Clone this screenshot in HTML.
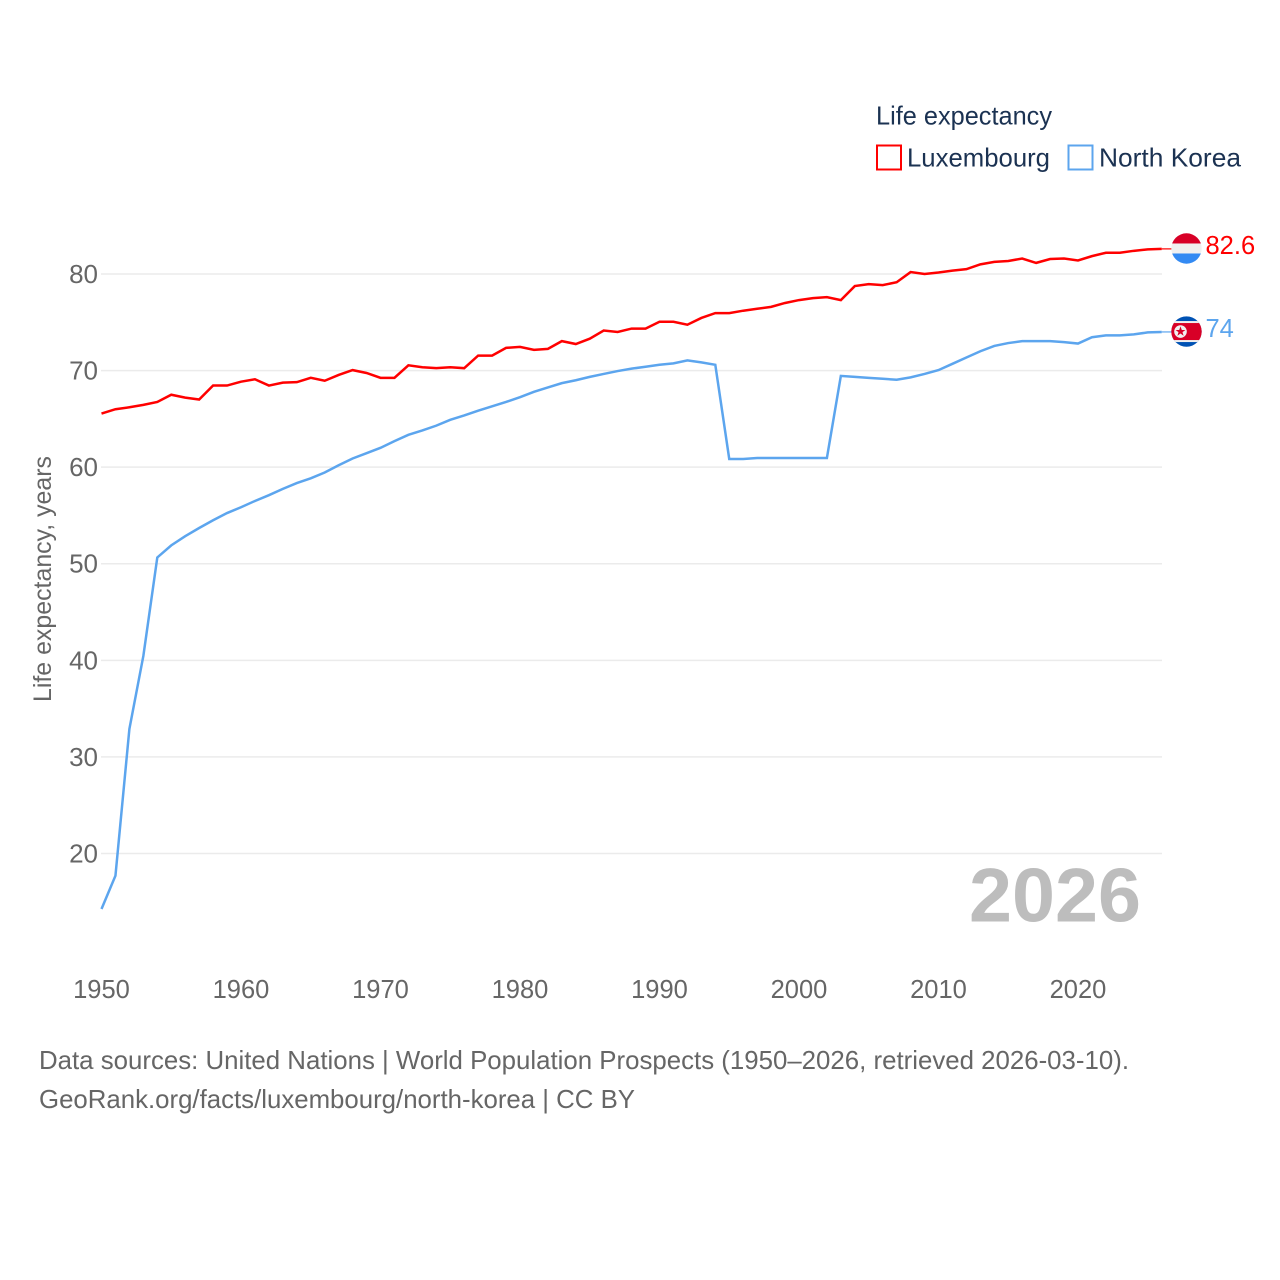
<!DOCTYPE html>
<html lang="en">
<head>
<meta charset="utf-8">
<title>Life expectancy: Luxembourg and North Korea</title>
<style>
html,body{margin:0;padding:0;background:#fff;width:1280px;height:1280px;overflow:hidden}
svg{display:block}
text{font-family:"Liberation Sans",Arial,sans-serif}
</style>
</head>
<body>
<svg id="chart" xmlns="http://www.w3.org/2000/svg" width="1280" height="1280" viewBox="0 0 1280 1280">
  <rect x="0" y="0" width="1280" height="1280" fill="#ffffff"/>
  <g id="grid"></g>
  <g id="y-ticks"></g>
  <g id="x-ticks"></g>
  <text transform="translate(51,702) rotate(-90)" font-size="25" fill="#666666" textLength="246" lengthAdjust="spacingAndGlyphs">Life expectancy, years</text>
  <text x="969" y="921.5" font-size="76" font-weight="700" fill="#bdbdbd" textLength="172" lengthAdjust="spacingAndGlyphs">2026</text>
  <g id="series"></g>
  <g id="flags"></g>
  <g>
    <text x="876" y="124.5" font-size="26" fill="#1b3252" textLength="176" lengthAdjust="spacingAndGlyphs">Life expectancy</text>
    <g>
      <rect x="877" y="145.5" width="24" height="24" fill="#ffffff" stroke="#ff0000" stroke-width="2"/>
      <text x="907" y="166.5" font-size="26" fill="#1b3252" textLength="143" lengthAdjust="spacingAndGlyphs">Luxembourg</text>
    </g>
    <g>
      <rect x="1068.5" y="145.5" width="24" height="24" fill="#ffffff" stroke="#5ca5ee" stroke-width="2"/>
      <text x="1099" y="166.5" font-size="26" fill="#1b3252" textLength="142" lengthAdjust="spacingAndGlyphs">North Korea</text>
    </g>
  </g>
  <g>
    <text x="39" y="1069" font-size="26" fill="#666666" textLength="1090" lengthAdjust="spacingAndGlyphs">Data sources: United Nations | World Population Prospects (1950–2026, retrieved 2026-03-10).</text>
    <text x="39" y="1108" font-size="26" fill="#666666" textLength="596" lengthAdjust="spacingAndGlyphs">GeoRank.org/facts/luxembourg/north-korea | CC BY</text>
  </g>
</svg>
<script>
const years = [1950,1951,1952,1953,1954,1955,1956,1957,1958,1959,1960,1961,1962,1963,1964,1965,1966,1967,1968,1969,1970,1971,1972,1973,1974,1975,1976,1977,1978,1979,1980,1981,1982,1983,1984,1985,1986,1987,1988,1989,1990,1991,1992,1993,1994,1995,1996,1997,1998,1999,2000,2001,2002,2003,2004,2005,2006,2007,2008,2009,2010,2011,2012,2013,2014,2015,2016,2017,2018,2019,2020,2021,2022,2023,2024,2025,2026];
const luxembourgValues = [65.55,66.0,66.2,66.45,66.75,67.5,67.2,67.0,68.45,68.45,68.85,69.1,68.45,68.75,68.8,69.25,68.95,69.55,70.05,69.75,69.25,69.25,70.55,70.35,70.25,70.35,70.25,71.55,71.55,72.35,72.45,72.15,72.25,73.05,72.75,73.3,74.15,74.0,74.35,74.35,75.05,75.05,74.75,75.45,75.95,75.95,76.2,76.4,76.6,77.0,77.3,77.5,77.6,77.3,78.75,78.95,78.85,79.15,80.2,80.0,80.15,80.35,80.5,81.0,81.25,81.35,81.6,81.15,81.55,81.6,81.4,81.85,82.2,82.2,82.4,82.55,82.6];
const northKoreaValues = [14.25,17.7,32.9,40.45,50.65,51.9,52.85,53.7,54.5,55.25,55.85,56.5,57.1,57.75,58.35,58.85,59.45,60.2,60.9,61.45,62.0,62.7,63.35,63.8,64.3,64.9,65.35,65.85,66.3,66.75,67.25,67.8,68.25,68.7,69.0,69.35,69.65,69.95,70.2,70.4,70.6,70.75,71.05,70.85,70.6,60.85,60.85,60.95,60.95,60.95,60.95,60.95,60.95,69.45,69.35,69.25,69.15,69.05,69.3,69.65,70.05,70.7,71.35,72.0,72.55,72.85,73.05,73.05,73.05,72.95,72.8,73.45,73.65,73.65,73.75,73.95,74];
const yTickValues = [20,30,40,50,60,70,80];
const xTickValues = [1950,1960,1970,1980,1990,2000,2010,2020];

const SVG_NS = 'http://www.w3.org/2000/svg';
const xOf = function (year) { return 101.5 + (year - 1950) * 13.95; };
const yOf = function (value) { return 274 + (80 - value) * 9.658; };
const make = function (tag, parentId) {
  const node = document.createElementNS(SVG_NS, tag);
  document.getElementById(parentId).appendChild(node);
  return node;
};

yTickValues.forEach(function (value) {
  const line = make('line', 'grid');
  
  
  line.setAttribute('x1', 101);
  line.setAttribute('x2', 1162);
  line.setAttribute('y1', yOf(value));
  line.setAttribute('y2', yOf(value));
  line.setAttribute('stroke', '#ebebeb');
  line.setAttribute('stroke-width', 1.5);
  const label = make('text', 'y-ticks');
  
  
  label.setAttribute('x', 98);
  label.setAttribute('y', yOf(value) + 9);
  label.setAttribute('text-anchor', 'end');
  label.setAttribute('font-size', 26);
  label.setAttribute('fill', '#666666');
  label.textContent = value;
});

xTickValues.forEach(function (year) {
  const label = make('text', 'x-ticks');
  
  
  label.setAttribute('x', xOf(year));
  label.setAttribute('y', 998);
  label.setAttribute('text-anchor', 'middle');
  label.setAttribute('font-size', 25.5);
  label.setAttribute('fill', '#666666');
  label.textContent = year;
});

const pathFor = function (values) {
  return values.map(function (value, i) {
    return (i === 0 ? 'M' : 'L') + xOf(years[i]).toFixed(2) + ' ' + yOf(value).toFixed(2);
  }).join(' ');
};

const lastLux = luxembourgValues[luxembourgValues.length - 1];
const lastNk = northKoreaValues[northKoreaValues.length - 1];

const luxLine = make('path', 'series');


luxLine.setAttribute('d', pathFor(luxembourgValues));
luxLine.setAttribute('fill', 'none');
luxLine.setAttribute('stroke', '#ff0000');
luxLine.setAttribute('stroke-width', 2.5);

const nkLine = make('path', 'series');


nkLine.setAttribute('d', pathFor(northKoreaValues));
nkLine.setAttribute('fill', 'none');
nkLine.setAttribute('stroke', '#5ca5ee');
nkLine.setAttribute('stroke-width', 2.5);

const luxLeader = make('line', 'series');


luxLeader.setAttribute('x1', xOf(2026));
luxLeader.setAttribute('x2', 1172);
luxLeader.setAttribute('y1', yOf(lastLux));
luxLeader.setAttribute('y2', yOf(lastLux));
luxLeader.setAttribute('stroke', '#ff0000');
luxLeader.setAttribute('stroke-width', 1.2);

const nkLeader = make('line', 'series');


nkLeader.setAttribute('x1', xOf(2026));
nkLeader.setAttribute('x2', 1172);
nkLeader.setAttribute('y1', yOf(lastNk));
nkLeader.setAttribute('y2', yOf(lastNk));
nkLeader.setAttribute('stroke', '#5ca5ee');
nkLeader.setAttribute('stroke-width', 1.2);

const flagsRoot = document.getElementById('flags');
const defs = document.createElementNS(SVG_NS, 'defs');
defs.innerHTML =
  '<clipPath id="clip-lux"><circle cx="1186.5" cy="0" r="15.2"/></clipPath>' +
  '<clipPath id="clip-nk"><circle cx="1186.5" cy="0" r="15.2"/></clipPath>';
flagsRoot.appendChild(defs);

const luxFlag = make('g', 'flags');


luxFlag.setAttribute('transform', 'translate(0,' + (yOf(lastLux) - 0.4) + ')');
luxFlag.innerHTML =
  '<g clip-path="url(#clip-lux)">' +
  '<rect x="1170" y="-16" width="33" height="11" fill="#d80027"/>' +
  '<rect x="1170" y="-5" width="33" height="10" fill="#f0f0f0"/>' +
  '<rect x="1170" y="5" width="33" height="11" fill="#338af3"/>' +
  '</g>';

const luxValue = make('text', 'flags');


luxValue.setAttribute('x', 1205.5);
luxValue.setAttribute('y', yOf(lastLux) + 5);
luxValue.setAttribute('font-size', 25.5);
luxValue.setAttribute('fill', '#ff0000');
luxValue.textContent = String(lastLux);

const nkFlag = make('g', 'flags');


nkFlag.setAttribute('transform', 'translate(0,' + (yOf(lastNk) - 0.4) + ')');
nkFlag.innerHTML =
  '<g clip-path="url(#clip-nk)">' +
  '<rect x="1170" y="-16" width="33" height="32" fill="#0052b4"/>' +
  '<rect x="1170" y="-10.5" width="33" height="21" fill="#f0f0f0"/>' +
  '<rect x="1170" y="-8.5" width="33" height="17" fill="#d80027"/>' +
  '<circle cx="1180.5" cy="0" r="6.3" fill="#f0f0f0"/>' +
  '<polygon points="1180.5,-5.2 1181.8,-1.6 1185.4,-1.6 1182.5,0.6 1183.6,4.2 1180.5,2 1177.4,4.2 1178.5,0.6 1175.6,-1.6 1179.2,-1.6" fill="#d80027"/>' +
  '</g>';

const nkValue = make('text', 'flags');


nkValue.setAttribute('x', 1205.5);
nkValue.setAttribute('y', yOf(lastNk) + 5);
nkValue.setAttribute('font-size', 25.5);
nkValue.setAttribute('fill', '#5ca5ee');
nkValue.textContent = String(lastNk);
</script>
</body>
</html>
